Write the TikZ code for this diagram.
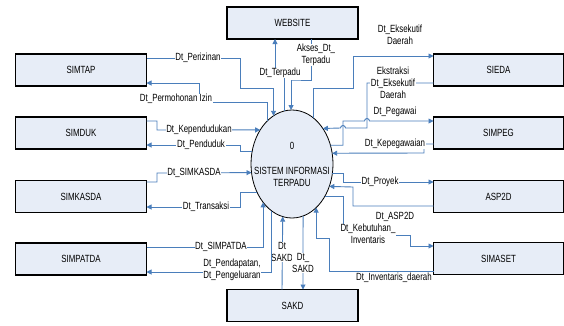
\documentclass[tikz,border=0pt]{standalone}
\usepackage{fontspec}
\setmainfont{Liberation Sans}[FakeStretch=0.76]
\usetikzlibrary{arrows.meta,shapes.geometric}
\definecolor{flowblue}{RGB}{74,126,187}
\definecolor{boxfill}{RGB}{231,237,247}
\tikzset{
	entity/.style={draw=black, line width=1.1pt, fill=boxfill, minimum width=131pt, minimum height=32pt, inner sep=0pt, outer sep=0pt},
	flow/.style={draw=flowblue, line width=0.9pt, -{Triangle[length=5pt,width=5pt]}},
	lbl/.style={fill=white, inner sep=0.6pt, align=center},
}
\begin{document}
\begin{tikzpicture}[x=1pt, y=-1pt, font=\fontsize{10.4}{12}\selectfont]
	\useasboundingbox[fill=white] (0,0) rectangle (564,325);
	% external entities
	\node[entity] (website) at (292.5,23) {WEBSITE};
	\node[entity] (simtap) at (81,70) {SIMTAP};
	\node[entity] (simduk) at (81,133) {SIMDUK};
	\node[entity] (simkasda) at (81,196.5) {SIMKASDA};
	\node[entity] (simpatda) at (81,259) {SIMPATDA};
	\node[entity] (sakd) at (292.5,305.5) {SAKD};
	\node[entity, minimum width=130pt] (sieda) at (498.5,70) {SIEDA};
	\node[entity, minimum width=130pt] (simpeg) at (498.5,133) {SIMPEG};
	\node[entity, minimum width=130pt] (asp2d) at (498.5,196.5) {ASP2D};
	\node[entity, minimum width=130pt] (simaset) at (498.5,258.5) {SIMASET};
	% process
	\node[draw, ellipse, line width=0.8pt, fill=boxfill, minimum width=82pt, minimum height=108pt, inner sep=0pt, outer sep=0pt] (sys) at (292,164) {};
	\node[align=center] (systext) at (292,164) {0\\[13pt]SISTEM INFORMASI\\TERPADU};

	% top
	\draw[flow] (simtap.east |- 0,58) -| (240,88) -| (sys.111.6);
	\node[lbl] at (198,58) {Dt\_Perizinan};
	\draw[flow] (sys.120.3) |- (199,102) |- (simtap.east |- 0,83);
	\node[lbl] at (176,99) {Dt\_Permohonan Izin};
	\draw[flow] (sys.98.6) |- (275,73) -- (275,0 |- website.south);
	\node[lbl] at (280,73) {Dt\_Terpadu};
	\draw[flow] (311,0 |- website.south) |- (291,80) -| (sys.91);
	\node[lbl] at (316,55) {Akses\_Dt\_\\Terpadu};

	% right
	\draw[flow] (sys.65.7) |- (353,88) |- (sieda.west |- 0,56);
	\node[lbl] at (400,35) {Dt\_Eksekutif\\Daerah};
	\draw[flow] (sieda.west |- 0,83) -| (367,128) -- (345.5,128) arc[start angle=0, end angle=180, radius=2.5pt] -- (sys.49.67);
	\node[lbl] at (393,83) {Ekstraksi\\Dt\_Eksekutif\\Daerah};
	\draw[flow] (sys.26.33) -| (343,121) -- (364.5,121) arc[start angle=180, end angle=0, radius=2.5pt] -- (simpeg.west |- 0,121);
	\node[lbl] at (395,112) {Dt\_Pegawai};
	\draw[flow] (simpeg.west |- 0,144) -| (424,153) -- (sys.15.33);
	\node[lbl] at (395,144) {Dt\_Kepegawaian};
	\draw[flow] (sys.-13.96) -| (343,182) -- (asp2d.west |- 0,182);
	\node[lbl] at (380,182) {Dt\_Proyek};
	\draw[flow] (asp2d.west |- 0,206) -| (353,187) -- (sys.-31.8);
	\node[lbl] at (395,217) {Dt\_ASP2D};
	\draw[flow] (sys.-45.47) -| (343,235) -| (410,246) -- (simaset.west |- 0,246);
	\node[lbl] at (368,234) {Dt\_Kebutuhan\_\\Inventaris};
	\draw[flow] (simaset.west |- 0,271) -| (329,238) -| (sys.-61.26);
	\node[lbl] at (394,278) {Dt\_Inventaris\_daerah};

	% bottom
	\draw[flow] (282,0 |- sakd.north) -- (sys.-100.81);
	\node[lbl] at (282,252) {Dt\\SAKD};
	\draw[flow] (sys.-78.06) -- (303,0 |- sakd.north);
	\node[lbl] at (303,263) {Dt\_\\SAKD};

	% left
	\draw[flow] (simduk.east |- 0,121) -| (157,130) -- (sys.133.13);
	\node[lbl] at (199,130) {Dt\_Kependudukan};
	\draw[flow] (sys.163.29) -| (240,145) -- (simduk.east |- 0,145);
	\node[lbl] at (201,145) {Dt\_Penduduk};
	\draw[flow] (simkasda.east |- 0,182) -| (157,173) -- (sys.192.55);
	\node[lbl] at (194,173) {Dt\_SIMKASDA};
	\draw[flow] (sys.219.98) -| (240,207) -- (simkasda.east |- 0,207);
	\node[lbl] at (206,207) {Dt\_Transaksi};
	\draw[flow] (simpatda.east |- 0,247) -| (sys.-127.22);
	\node[lbl] at (221,247) {Dt\_SIMPATDA};
	\draw[flow] (sys.-114.36) |- (simpatda.east |- 0,272);
	\node[lbl] at (232,270) {Dt\_Pendapatan,\\Dt\_Pengeluaran};
\end{tikzpicture}
\end{document}
